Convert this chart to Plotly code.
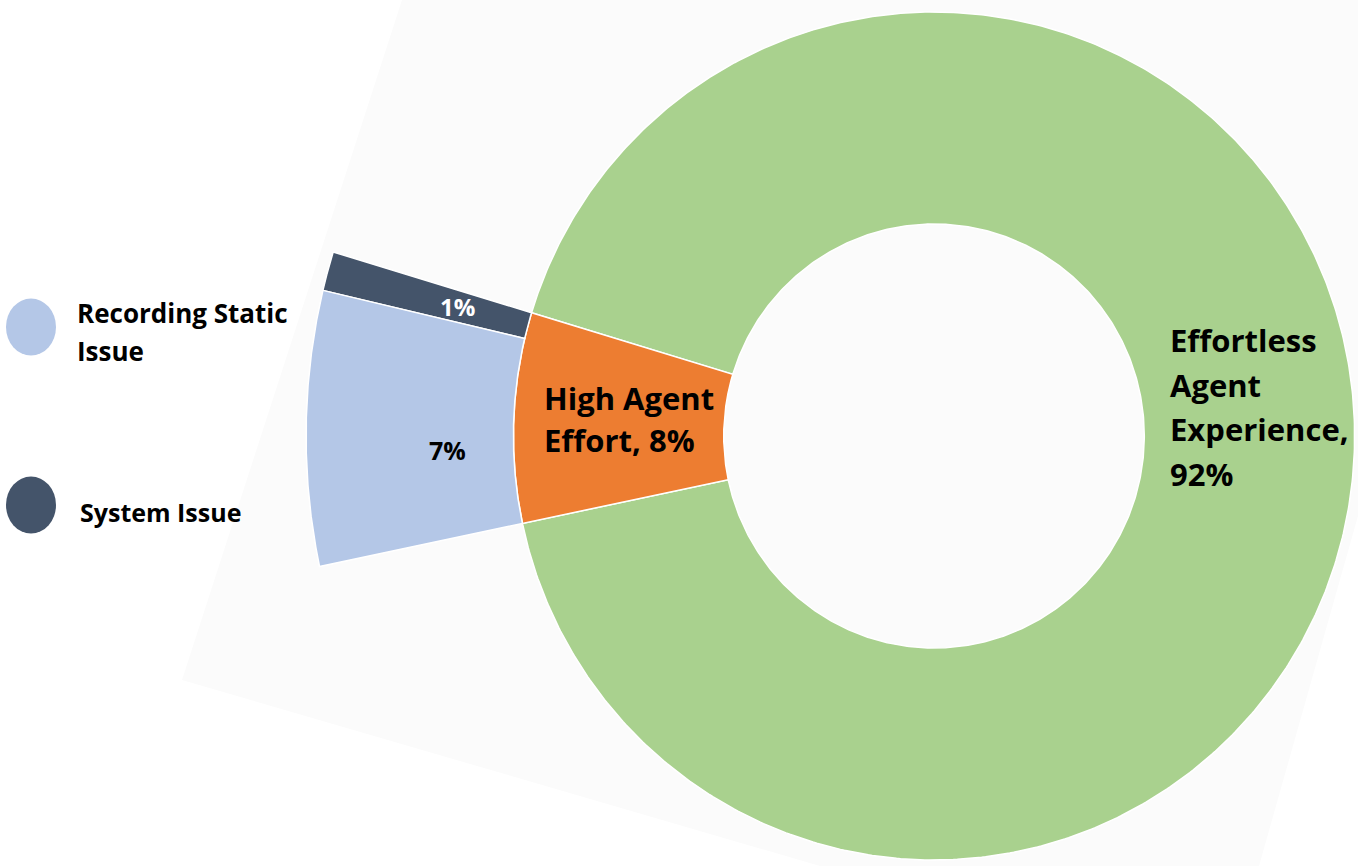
import numpy as np
import plotly.graph_objects as go

# Main split of agent experience (inner donut)
main_labels = ["Effortless Agent Experience", "High Agent Effort"]
main_values = [92, 8]
main_colors = ["#A9D18E", "#ED7D31"]

# Breakdown of the high-effort slice (outer ring)
detail_labels = ["System Issue", "Recording Static Issue"]
detail_values = [1, 7]
detail_colors = ["#44546A", "#B4C7E7"]

# Geometry in pixel space
W, H = 1358, 866
CX, CY = 934, 436
R_HOLE, R_MAIN, R_OUTER = 212, 424, 633
SX = 0.992          # slight horizontal squash of the drawing
EFFORT_MID = 177.5  # angle (deg, counter-clockwise from +x) at the middle of the effort slice

FONT = "Open Sans"


def polar_xy(r, ang):
    t = np.radians(ang)
    return CX + SX * r * np.cos(t), CY - r * np.sin(t)


def sector(r0, r1, a0, a1, n=200):
    t = np.linspace(a0, a1, n)
    xo, yo = polar_xy(r1, t)
    xi, yi = polar_xy(r0, t[::-1])
    x = np.concatenate([xo, xi, xo[:1]])
    y = np.concatenate([yo, yi, yo[:1]])
    return x, y


fig = go.Figure()

# rotated chart-area backdrop
fig.add_shape(
    type="path",
    path="M 402 0 L 1358 0 L 1358 516 L 1259 866 L 820 866 L 182 680 Z",
    xref="x", yref="y", fillcolor="#FBFBFB", line=dict(width=0), layer="below",
)

total = sum(main_values)
eff_span = 360.0 * main_values[1] / total
eff_start = EFFORT_MID - eff_span / 2
eff_end = EFFORT_MID + eff_span / 2

# inner donut: green wraps from the bottom of the effort slice round to its top
spans = [(eff_end, eff_start + 360.0), (eff_start, eff_end)]
for (a0, a1), lab, col in zip(spans, main_labels, main_colors):
    x, y = sector(R_HOLE, R_MAIN, a0, a1, n=600)
    fig.add_trace(go.Scatter(x=x, y=y, fill="toself", fillcolor=col, mode="lines",
                             line=dict(color="white", width=1.5), name=lab,
                             hoverinfo="name", showlegend=False))

# outer ring splits the effort slice
d_total = sum(detail_values)
a = eff_start
detail_mid = {}
for v, lab, col in zip(detail_values, detail_labels, detail_colors):
    span = eff_span * v / d_total
    x, y = sector(R_MAIN, R_OUTER, a, a + span)
    fig.add_trace(go.Scatter(x=x, y=y, fill="toself", fillcolor=col, mode="lines",
                             line=dict(color="white", width=1.5), name=lab,
                             hoverinfo="name", showlegend=False))
    detail_mid[lab] = a + span / 2
    a += span


def add_lines(lines, x, y0, step, size, color="black", xanchor="left"):
    for i, s in enumerate(lines):
        fig.add_annotation(x=x, y=y0 + i * step, xref="x", yref="y", text=f"<b>{s}</b>",
                           showarrow=False, xanchor=xanchor, yanchor="middle",
                           font=dict(family=FONT, size=size, color=color))


# slice labels
add_lines(["Effortless", "Agent", "Experience,", f"{main_values[0]}%"], 1168, 340, 44.5, 31)
add_lines(["High Agent", f"Effort, {main_values[1]}%"], 542, 398, 42, 31)
add_lines([f"{detail_values[1]}%"], 447, 450, 0, 25, xanchor="center")
sx_, sy_ = polar_xy(498, detail_mid["System Issue"])
add_lines([f"{detail_values[0]}%"], float(sx_), float(sy_), 0, 24, color="white",
          xanchor="center")

# legend markers and text
legend_y = {"Recording Static Issue": 327, "System Issue": 505}
for lab, col in zip(detail_labels, detail_colors):
    yc = legend_y[lab]
    fig.add_shape(type="circle", xref="x", yref="y", x0=6, x1=56, y0=yc - 28.5, y1=yc + 28.5,
                  fillcolor=col, line=dict(width=0))
add_lines(["Recording Static", "Issue"], 75, 313, 38, 26)
add_lines(["System Issue"], 78, 512, 0, 25)

fig.update_xaxes(range=[0, W], visible=False, fixedrange=True)
fig.update_yaxes(range=[H, 0], visible=False, fixedrange=True)
fig.update_layout(
    width=W, height=H,
    margin=dict(l=0, r=0, t=0, b=0),
    paper_bgcolor="white", plot_bgcolor="white",
    showlegend=False,
)

fig.write_html("out.html")
